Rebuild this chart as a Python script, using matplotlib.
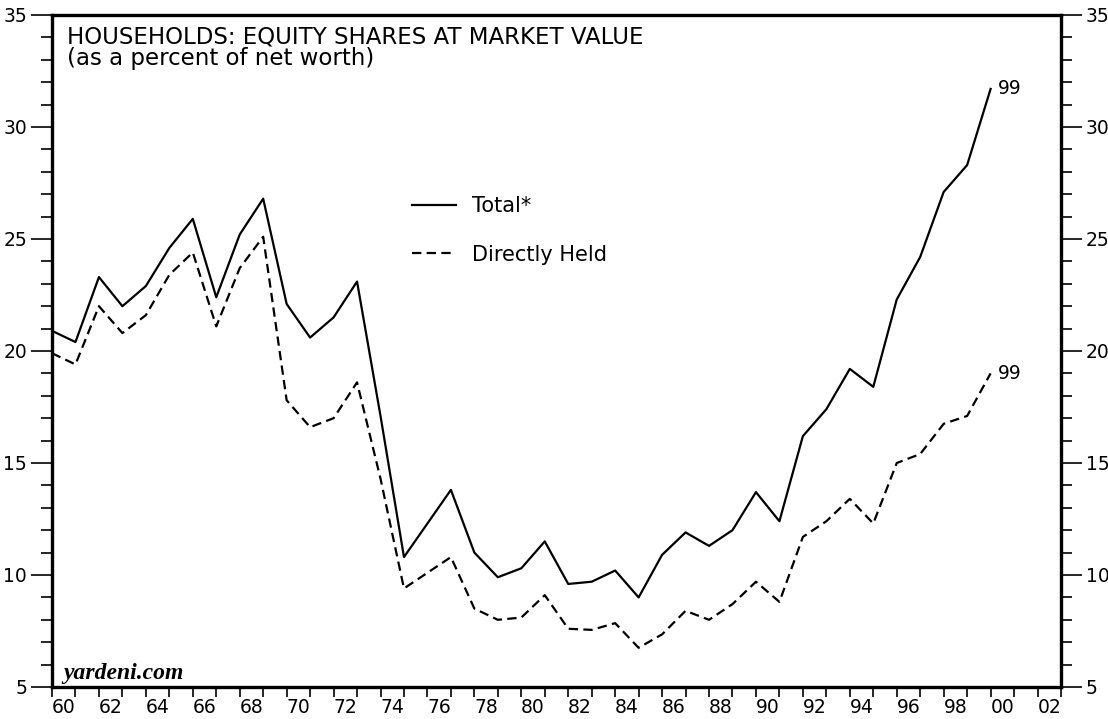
import numpy as np
import matplotlib.pyplot as plt
from matplotlib.ticker import FixedLocator, MultipleLocator

# households: equity shares at market value, % of net worth (year-end values)
years = list(range(1959, 2000))
total = [20.9, 20.4, 23.3, 22.0, 22.9, 24.6, 25.9, 22.4, 25.2, 26.8,
         22.1, 20.6, 21.5, 23.1, 17.1, 10.8, 12.3, 13.8, 11.0, 9.9,
         10.3, 11.5, 9.6, 9.7, 10.2, 9.0, 10.9, 11.9, 11.3, 12.0,
         13.7, 12.4, 16.2, 17.4, 19.2, 18.4, 22.3, 24.2, 27.1, 28.3,
         31.7]
direct = [19.9, 19.4, 22.0, 20.8, 21.6, 23.4, 24.4, 21.1, 23.7, 25.1,
          17.8, 16.6, 17.0, 18.6, 14.3, 9.4, 10.1, 10.8, 8.5, 8.0,
          8.1, 9.1, 7.6, 7.55, 7.85, 6.75, 7.35, 8.4, 8.0, 8.7,
          9.7, 8.8, 11.7, 12.4, 13.4, 12.3, 15.0, 15.4, 16.75, 17.1,
          19.0]
label_years = list(range(1960, 2003, 2))
x_labels = ['%02d' % (y % 100) for y in label_years]

plt.rcParams['font.family'] = ['DejaVu Sans']

fig = plt.figure(figsize=(11.08, 7.19), dpi=100)
ax = fig.add_axes([52 / 1108, 1 - 687 / 719, 1009 / 1108, 672 / 719])

xpos = [y + 1 for y in years]  # plotted at end of year
ax.plot(xpos, total, color='black', lw=1.6, label='Total*')
ax.plot(xpos, direct, color='black', lw=1.6, dashes=(4.2, 2.4), label='Directly Held')

ax.set_xlim(1960, 2003)
ax.set_ylim(5, 35)

for s in ax.spines.values():
    s.set_linewidth(2.4)

# y axis on both sides
ax.yaxis.set_major_locator(MultipleLocator(5))
ax.yaxis.set_minor_locator(MultipleLocator(1))
ax.tick_params(axis='y', which='both', left=True, right=True,
               labelleft=True, labelright=True, direction='out',
               labelsize=13.5, width=1.2)
ax.tick_params(axis='y', which='major', length=15, pad=3)
ax.tick_params(axis='y', which='minor', length=8)

# x axis: ticks at year boundaries, labels mid-year
ax.xaxis.set_major_locator(FixedLocator(np.arange(1960, 2004)))
ax.xaxis.set_major_formatter(plt.NullFormatter())
ax.xaxis.set_minor_locator(FixedLocator([y + 0.5 for y in label_years]))
ax.set_xticklabels(x_labels, minor=True)
ax.tick_params(axis='x', which='major', direction='out', length=7, width=1.2)
ax.tick_params(axis='x', which='minor', length=0, labelsize=13.5, pad=8)

ax.text(0.015, 0.958, 'HOUSEHOLDS: EQUITY SHARES AT MARKET VALUE',
        transform=ax.transAxes, fontsize=16.5, va='baseline')
ax.text(0.015, 0.926, '(as a percent of net worth)',
        transform=ax.transAxes, fontsize=16.5, va='baseline')

ax.annotate('99', xy=(xpos[-1], total[-1]), xytext=(5, 0),
            textcoords='offset points', va='center', fontsize=13.5)
ax.annotate('99', xy=(xpos[-1], direct[-1]), xytext=(5, 0),
            textcoords='offset points', va='center', fontsize=13.5)

ax.text(0.011, 0.012, 'yardeni.com', transform=ax.transAxes,
        family='Liberation Serif', style='italic', weight='bold',
        fontsize=17, va='baseline')

ax.legend(loc='upper left', bbox_to_anchor=(0.357, 0.730), frameon=False,
          fontsize=15, handlelength=2.1, handletextpad=0.77,
          labelspacing=1.35, borderpad=0, borderaxespad=0)

fig.savefig('out.png', dpi=100)
